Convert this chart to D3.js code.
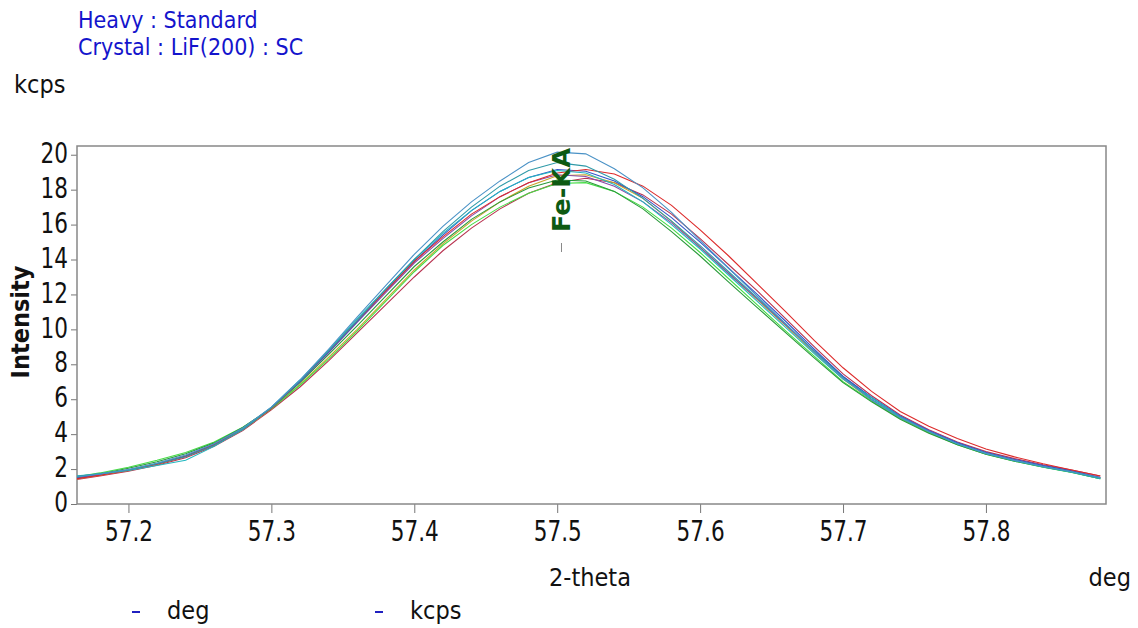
<!DOCTYPE html>
<html>
<head>
<meta charset="utf-8">
<script src="https://cdn.jsdelivr.net/npm/d3@7"></script>
<style>
  body { margin: 0; background: #fff; }
  text { font-family: "DejaVu Sans Condensed", "DejaVu Sans", sans-serif; }
</style>
</head>
<body>
<div id="chart"></div>
<script>
"use strict";
// 2-theta positions (deg)
const twoTheta = [57.16,57.18,57.20,57.22,57.24,57.26,57.28,57.30,57.32,57.34,57.36,57.38,57.40,57.42,57.44,57.46,57.48,57.50,57.52,
  57.54,57.56,57.58,57.60,57.62,57.64,57.66,57.68,57.70,57.72,57.74,57.76,57.78,57.80,57.82,57.84,57.86,57.88];

// intensity (kcps) of each scan
const scanA = [1.50,1.72,1.98,2.35,2.80,3.45,4.35,5.55,7.10,8.85,10.70,12.50,14.30,15.90,17.30,18.50,19.55,20.15,20.05,19.20,18.10,16.70,15.10,13.50,11.90,10.30,8.70,7.20,5.95,4.95,4.15,3.45,2.90,2.50,2.15,1.85,1.50];
const scanB = [1.55,1.75,1.95,2.30,2.70,3.35,4.25,5.50,7.05,8.75,10.50,12.30,14.00,15.60,17.00,18.20,19.10,19.55,19.35,18.60,17.50,16.20,14.80,13.30,11.80,10.30,8.75,7.25,6.00,4.95,4.15,3.45,2.90,2.50,2.15,1.85,1.48];
const scanC = [1.50,1.78,2.10,2.50,2.95,3.55,4.40,5.45,6.80,8.30,9.90,11.60,13.30,14.80,16.00,17.00,17.80,18.35,18.40,17.90,17.00,15.80,14.40,12.90,11.40,9.90,8.45,7.00,5.90,4.90,4.10,3.40,2.85,2.45,2.10,1.80,1.45];
const scanD = [1.40,1.65,1.92,2.28,2.72,3.38,4.28,5.48,7.05,8.75,10.50,12.20,13.90,15.30,16.60,17.60,18.40,18.95,19.15,18.90,18.20,17.10,15.70,14.20,12.60,11.00,9.35,7.80,6.45,5.30,4.45,3.75,3.15,2.70,2.30,1.95,1.60];
const scanE = [1.35,1.60,1.88,2.22,2.65,3.30,4.20,5.40,6.70,8.20,9.80,11.40,13.00,14.50,15.80,16.90,17.80,18.40,18.65,18.40,17.70,16.60,15.20,13.70,12.20,10.60,9.00,7.45,6.20,5.10,4.25,3.55,3.00,2.60,2.25,1.95,1.60];
const scanF = [1.40,1.68,1.95,2.30,2.75,3.42,4.32,5.52,7.02,8.65,10.40,12.10,13.80,15.20,16.50,17.60,18.40,18.85,18.75,18.20,17.30,16.10,14.70,13.20,11.75,10.25,8.75,7.30,6.10,5.05,4.22,3.52,2.95,2.55,2.20,1.90,1.52];
const scanG = [1.38,1.65,1.92,2.28,2.72,3.38,4.26,5.45,6.85,8.40,10.00,11.70,13.40,14.90,16.20,17.30,18.20,18.80,18.85,18.40,17.50,16.20,14.70,13.20,11.70,10.20,8.65,7.15,5.95,4.95,4.15,3.45,2.90,2.50,2.15,1.85,1.50];
const scanH = [1.45,1.72,2.05,2.42,2.88,3.50,4.38,5.50,6.95,8.55,10.20,11.90,13.60,15.00,16.30,17.30,18.10,18.55,18.50,17.90,16.90,15.60,14.20,12.70,11.25,9.80,8.35,6.95,5.85,4.85,4.05,3.40,2.85,2.45,2.12,1.82,1.45];
const scanI = [1.58,1.72,1.92,2.20,2.50,3.30,4.30,5.55,7.10,8.80,10.60,12.30,14.00,15.50,16.80,17.90,18.70,19.10,18.95,18.30,17.30,16.00,14.60,13.10,11.60,10.10,8.60,7.15,6.10,5.00,4.15,3.45,2.90,2.48,2.12,1.82,1.45];
const scanJ = [1.45,1.70,1.95,2.30,2.75,3.40,4.30,5.50,7.00,8.70,10.45,12.20,13.90,15.40,16.80,17.90,18.70,19.15,19.05,18.50,17.60,16.40,15.00,13.50,12.00,10.45,8.85,7.30,6.10,5.02,4.20,3.50,2.95,2.55,2.20,1.90,1.52];

const scans = [scanE, scanG, scanC, scanH, scanF, scanJ, scanD, scanI, scanB, scanA];
const scanColors = ["#b8324f","#c9a227","#44dd44","#2a9a3a","#8a4aa8","#3355c8","#dd2a2a","#22b8c0","#2f9aa8","#4a92c6"];

const yTicks = [0,2,4,6,8,10,12,14,16,18,20];
const xTicks = [57.2,57.3,57.4,57.5,57.6,57.7,57.8];
const titleLines = ["Heavy : Standard", "Crystal : LiF(200) : SC"];
const legendItems = ["deg", "kcps"];
const peakName = "Fe-KA", peakPos = 57.503;

const W = 1138, H = 628;
const m = {left: 77, top: 146, right: 1106, bottom: 504};

const svg = d3.select("#chart").append("svg").attr("width", W).attr("height", H);

const x = d3.scaleLinear().domain([57.164, 57.884]).range([m.left, m.right]);
const y = d3.scaleLinear().domain([0, 20.5]).range([m.bottom, m.top]);

// titre
svg.selectAll("text.title").data(titleLines).enter().append("text")
  .attr("class", "title")
  .attr("x", 78).attr("y", (d, i) => 28 + i * 27)
  .attr("fill", "#1414cc").attr("font-size", 23)
  .text(d => d);

svg.append("text").attr("x", 14).attr("y", 93).attr("font-size", 25).attr("fill", "#111").text("kcps");

// clip
svg.append("clipPath").attr("id", "clip").append("rect")
  .attr("x", m.left).attr("y", m.top).attr("width", m.right - m.left).attr("height", m.bottom - m.top);

// axes
const gy = svg.append("g").attr("transform", `translate(${m.left},0)`)
  .call(d3.axisLeft(y).tickValues(yTicks).tickSize(6).tickPadding(3).tickFormat(d3.format("d")));
const gx = svg.append("g").attr("transform", `translate(0,${m.bottom})`)
  .call(d3.axisBottom(x).tickValues(xTicks).tickSize(9).tickPadding(5).tickFormat(d3.format(".1f")));
[gy, gx].forEach(g => {
  g.select(".domain").remove();
  g.selectAll("line").attr("stroke", "#777");
  g.selectAll("text").attr("font-size", 24).attr("fill", "#111")
    .attr("transform", "scale(1,1.18)");
});
gy.selectAll("text").attr("dy", "0.27em");

// cadre
svg.append("rect").attr("x", m.left).attr("y", m.top)
  .attr("width", m.right - m.left).attr("height", m.bottom - m.top)
  .attr("fill", "none").attr("stroke", "#888").attr("stroke-width", 1.5);

// courbes
const line = d3.line().x((d, i) => x(twoTheta[i])).y(d => y(d));
svg.append("g").attr("clip-path", "url(#clip)")
  .selectAll("path").data(scans).enter().append("path")
  .attr("d", line)
  .attr("fill", "none")
  .attr("stroke", (d, i) => scanColors[i])
  .attr("stroke-width", 1.1);

// pic Fe-KA
const px = x(peakPos);
svg.append("line").attr("x1", px).attr("x2", px).attr("y1", 243).attr("y2", 252)
  .attr("stroke", "#888").attr("stroke-width", 1);
svg.append("text")
  .attr("transform", `translate(${px + 9},232) rotate(-90)`)
  .attr("font-size", 24).attr("font-weight", "bold").attr("fill", "#0d5a12")
  .attr("textLength", 84).attr("lengthAdjust", "spacingAndGlyphs")
  .text(peakName);

// titres des axes
svg.append("text")
  .attr("transform", `translate(29,322) rotate(-90)`)
  .attr("text-anchor", "middle").attr("font-size", 25).attr("font-weight", "bold").attr("fill", "#111")
  .text("Intensity");
svg.append("text").attr("x", 590).attr("y", 586).attr("text-anchor", "middle")
  .attr("font-size", 25).attr("fill", "#111").text("2-theta");
svg.append("text").attr("x", 1131).attr("y", 586).attr("text-anchor", "end")
  .attr("font-size", 25).attr("fill", "#111").text("deg");

// légende
const leg = svg.selectAll("g.leg").data(legendItems).enter().append("g")
  .attr("transform", (d, i) => `translate(${130 + i * 243},619)`);
leg.append("line").attr("x1", 2).attr("x2", 10).attr("y1", -7).attr("y2", -7)
  .attr("stroke", "#2020c0").attr("stroke-width", 2);
leg.append("text").attr("x", 37).attr("font-size", 25).attr("fill", "#111").text(d => d);
</script>
</body>
</html>
